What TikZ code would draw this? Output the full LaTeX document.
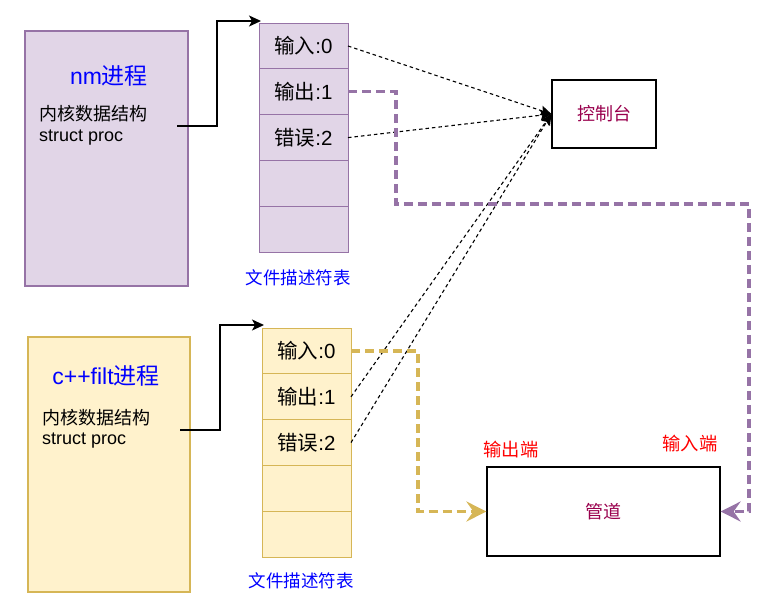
\documentclass[tikz,border=0pt]{standalone}
\usepackage{fontspec}
\setmainfont{Liberation Sans}
\newfontfamily\cjk{Noto Sans CJK SC}
\usetikzlibrary{positioning,arrows.meta}
\definecolor{nmfill}{HTML}{E1D5E7}
\definecolor{nmline}{HTML}{9673A6}
\definecolor{cppfill}{HTML}{FFF2CC}
\definecolor{cppline}{HTML}{D6B656}
\definecolor{devtext}{HTML}{99004D}
\definecolor{procblue}{HTML}{0000FF}
\definecolor{endred}{HTML}{FF0000}

\begin{document}
\begin{tikzpicture}[x=1pt, y=-1pt,
  procbox/.style={rectangle, line width=1.2pt, minimum width=163pt,
    minimum height=255pt, inner sep=0pt},
  proctitle/.style={font=\fontsize{23}{27}\selectfont, text=procblue},
  kerntext/.style={font=\fontsize{18}{21}\selectfont, anchor=base west, inner sep=0pt},
  fdcell/.style={rectangle, line width=1pt, minimum width=89pt,
    minimum height=45.8pt, inner sep=0pt, outer sep=0pt,
    font=\fontsize{20.5}{24}\selectfont},
  fdlabel/.style={font=\fontsize{17.5}{21}\selectfont, text=procblue},
  devbox/.style={rectangle, draw=black, line width=1.2pt, inner sep=0pt,
    font=\fontsize{18}{21}\selectfont, text=devtext},
  endlabel/.style={font=\fontsize{18.3}{21}\selectfont, text=endred},
  ptr/.style={-{Stealth[length=12pt, width=11pt, inset=3pt]}, line width=1.3pt},
  redirect/.style={-{Stealth[length=11pt, width=10pt, inset=2pt]}, line width=1.1pt,
    dash pattern=on 3.5pt off 3pt},
  pipeline/.style={-{Stealth[length=20pt, width=20pt, inset=7pt]}, line width=3.2pt,
    dash pattern=on 9pt off 5pt},
]
  \useasboundingbox (0,0) rectangle (759,599);

  % === nm process (top) ===
  \node[procbox, fill=nmfill, draw=nmline] (nm) at (106.5,158.5) {};
  \node[proctitle] (nmtitle) at (109,76) {nm\cjk 进程};
  \node[kerntext] (nmkern) at (39,121) {\cjk 内核数据结构};
  \node[kerntext] (nmstruct) at (39,141.5) {struct proc};
  \coordinate (nmptr) at (177,126);
  \coordinate (nmfdtop) at (261,21);

  % fd table of nm
  \node[fdcell, fill=nmfill, draw=nmline] (nm0) at (303.5,46) {\cjk 输入\rmfamily:0};
  \node[fdcell, fill=nmfill, draw=nmline, below=0pt of nm0] (nm1) {\cjk 输出\rmfamily:1};
  \node[fdcell, fill=nmfill, draw=nmline, below=0pt of nm1] (nm2) {\cjk 错误\rmfamily:2};
  \node[fdcell, fill=nmfill, draw=nmline, below=0pt of nm2] (nm3) {};
  \node[fdcell, fill=nmfill, draw=nmline, below=0pt of nm3] (nm4) {};
  \node[fdlabel] (nmfd) at (298,278) {\cjk 文件描述符表};

  \draw[ptr] (nmptr) -| (217,21) -- (nmfdtop);

  % === c++filt process (bottom) ===
  \node[procbox, fill=cppfill, draw=cppline, minimum width=162pt] (cpp) at (109,464.5) {};
  \node[proctitle] (cpptitle) at (106,376) {c++filt\cjk 进程};
  \node[kerntext] (cppkern) at (42,424) {\cjk 内核数据结构};
  \node[kerntext] (cppstruct) at (42,444.5) {struct proc};
  \coordinate (cppptr) at (180,430);
  \coordinate (cppfdtop) at (264,325);

  % fd table of c++filt
  \node[fdcell, fill=cppfill, draw=cppline] (cpp0) at (306.5,351) {\cjk 输入\rmfamily:0};
  \node[fdcell, fill=cppfill, draw=cppline, below=0pt of cpp0] (cpp1) {\cjk 输出\rmfamily:1};
  \node[fdcell, fill=cppfill, draw=cppline, below=0pt of cpp1] (cpp2) {\cjk 错误\rmfamily:2};
  \node[fdcell, fill=cppfill, draw=cppline, below=0pt of cpp2] (cpp3) {};
  \node[fdcell, fill=cppfill, draw=cppline, below=0pt of cpp3] (cpp4) {};
  \node[fdlabel] (cppfd) at (301,581) {\cjk 文件描述符表};

  \draw[ptr] (cppptr) -| (220,325) -- (cppfdtop);

  % === console and pipe ===
  \node[devbox, minimum width=104pt, minimum height=68pt] (con) at (604,114) {\cjk 控制台};
  \node[devbox, minimum width=233pt, minimum height=89pt] (pipe) at (603.5,511.5) {\cjk 管道};
  \node[endlabel] (pipeout) at (511,450) {\cjk 输出端};
  \node[endlabel] (pipein) at (690,444) {\cjk 输入端};

  % stdin / stderr to console
  \draw[redirect] (nm0.east) -- (con.west);
  \draw[redirect] (nm2.east) -- (con.west);
  \draw[redirect] (cpp1.east) -- (con.west);
  \draw[redirect] (cpp2.east) -- (con.west);

  % pipe ends
  \draw[pipeline, nmline] (nm1.east) -| (396,204) -| (749,511.5) -- (pipe.east);
  \draw[pipeline, cppline] (cpp0.east) -| (418,511.5) -- (pipe.west);
\end{tikzpicture}
\end{document}
